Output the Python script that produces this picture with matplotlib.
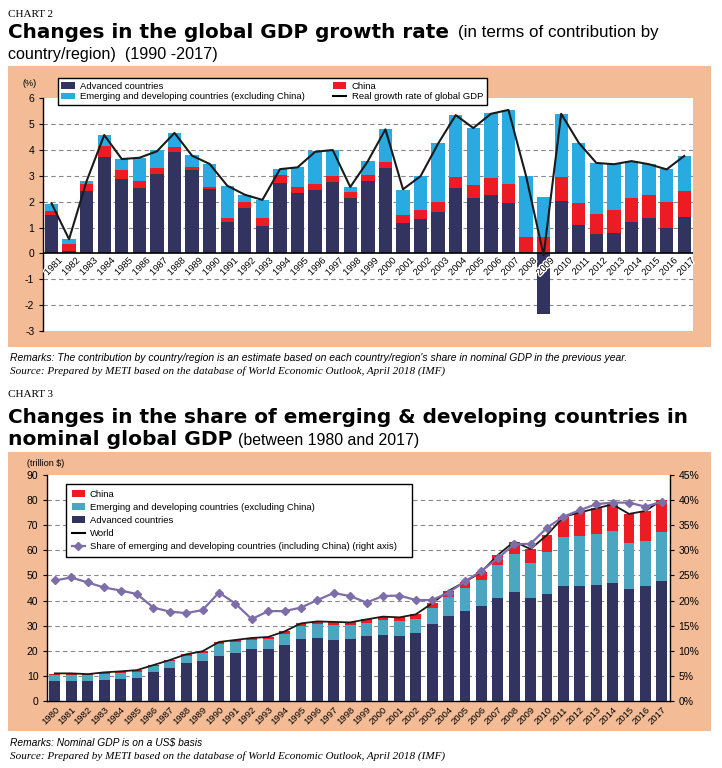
import numpy as np
import matplotlib
matplotlib.use('Agg')
import matplotlib.pyplot as plt
from matplotlib.patches import Rectangle, Patch
from matplotlib.lines import Line2D
import matplotlib.patheffects as pe

# ---------------- data: chart 2 (contribution to real GDP growth, %) ----------------
years2 = [str(y) for y in range(1981, 2018)]
adv2 = [1.48, 0.10, 2.41, 3.74, 2.88, 2.55, 3.07, 3.92, 3.23, 2.50, 1.21, 1.77, 1.07,
        2.74, 2.35, 2.45, 2.76, 2.15, 2.81, 3.29, 1.19, 1.34, 1.61, 2.54, 2.15, 2.27,
        1.96, 0.05, -2.36, 2.03, 1.11, 0.74, 0.80, 1.23, 1.38, 0.99, 1.42]
china2 = [0.17, 0.25, 0.27, 0.43, 0.36, 0.26, 0.23, 0.21, 0.12, 0.08, 0.17, 0.23, 0.30,
          0.29, 0.23, 0.23, 0.23, 0.22, 0.22, 0.26, 0.31, 0.34, 0.38, 0.43, 0.50, 0.63,
          0.72, 0.58, 0.63, 0.94, 0.85, 0.78, 0.88, 0.92, 0.89, 1.01, 0.99]
emerg2 = [0.26, 0.19, 0.12, 0.41, 0.41, 0.89, 0.69, 0.53, 0.46, 0.88, 1.23, 0.26, 0.69,
          0.23, 0.76, 1.27, 1.01, 0.20, 0.54, 1.26, 0.95, 1.31, 2.29, 2.38, 2.20, 2.52,
          2.87, 2.36, 1.56, 2.42, 2.32, 1.96, 1.77, 1.42, 1.18, 1.25, 1.36]
world2 = [1.94, 0.55, 2.80, 4.58, 3.65, 3.70, 3.95, 4.66, 3.78, 3.46, 2.62, 2.27, 2.07,
          3.26, 3.33, 3.93, 4.00, 2.57, 3.57, 4.80, 2.48, 2.99, 4.25, 5.35, 4.85, 5.40,
          5.55, 3.00, -0.07, 5.40, 4.28, 3.50, 3.45, 3.57, 3.45, 3.25, 3.77]

# ---------------- data: chart 3 (nominal GDP, trillion $) ----------------
years3 = [str(y) for y in range(1980, 2018)]
adv3 = [8.1, 8.1, 8.1, 8.5, 8.9, 9.3, 11.7, 13.3, 15.3, 16.1, 17.9, 19.2, 20.8, 20.8,
        22.4, 24.7, 25.1, 24.3, 24.7, 25.9, 26.3, 25.9, 27.2, 30.7, 33.9, 35.8, 38.0,
        41.0, 43.4, 41.0, 42.6, 45.8, 45.8, 46.2, 47.0, 44.6, 45.8, 47.8]
emerg3 = [2.25, 2.25, 2.1, 2.4, 2.4, 2.4, 2.2, 2.5, 2.6, 2.9, 4.8, 4.4, 3.5, 3.8, 4.3,
          5.2, 5.6, 5.8, 5.4, 5.2, 6.0, 6.0, 5.5, 6.2, 7.7, 9.1, 10.2, 13.2, 15.1, 14.1,
          16.7, 19.5, 19.9, 20.3, 20.7, 18.3, 17.8, 19.5]
china3 = [0.6, 0.6, 0.5, 0.5, 0.5, 0.6, 0.4, 0.5, 0.7, 0.8, 0.8, 0.7, 0.8, 0.9, 1.0,
          1.0, 1.0, 1.4, 1.2, 1.4, 1.3, 1.4, 1.8, 2.0, 2.3, 2.5, 3.2, 3.9, 5.0, 5.4, 6.8,
          8.0, 9.4, 10.2, 10.6, 11.6, 12.1, 12.7]
world3 = [11.0, 11.0, 10.7, 11.4, 11.8, 12.3, 14.3, 16.3, 18.6, 19.8, 23.5, 24.3, 25.1,
          25.5, 27.7, 30.9, 31.7, 31.5, 31.3, 32.5, 33.6, 33.3, 34.5, 38.9, 43.9, 47.4,
          51.4, 58.1, 63.5, 60.5, 66.1, 73.3, 75.1, 76.7, 78.3, 74.5, 75.7, 80.0]
share3 = [24.0, 24.6, 23.6, 22.6, 22.0, 21.3, 18.6, 17.8, 17.5, 18.1, 21.6, 19.4, 16.3,
          17.9, 17.9, 18.6, 20.1, 21.5, 20.9, 19.6, 20.9, 21.0, 20.1, 20.1, 21.6, 23.8,
          25.9, 28.4, 31.2, 31.3, 34.5, 36.7, 38.0, 39.2, 39.5, 39.5, 38.7, 39.7]

# ---------------- style ----------------
ORANGE = '#F3BC96'
NAVY = '#333360'
BLUE = '#29ABE2'
RED = '#ED1C24'
TEAL = '#4BA6C2'
PURPLE = '#7D6EAA'
GRID = '#888888'
TITLE_FONT = ['DejaVu Sans']

W, H = 722, 768
plt.rcParams['font.family'] = ['Liberation Sans', 'DejaVu Sans']
plt.rcParams['axes.unicode_minus'] = False
fig = plt.figure(figsize=(W / 100, H / 100), dpi=100)
renderer = fig.canvas.get_renderer()


def fx(x):
    return x / W


def fy(y):
    return 1 - y / H


def put(x, y, s, size, target_w=None, **kw):
    t = fig.text(fx(x), fy(y), s, fontsize=size, va='baseline', ha='left', **kw)
    if target_w:
        w = t.get_window_extent(renderer).width
        t.set_fontsize(size * target_w / w)
    return t


def after(t, s, size, x1, target_w=None, **kw):
    y = t.get_position()[1]
    t2 = fig.text(x1 / W, y, s, fontsize=size, va='baseline', ha='left', **kw)
    if target_w:
        w = t2.get_window_extent(renderer).width
        t2.set_fontsize(size * target_w / w)
    return t2


# panels
fig.add_artist(Rectangle((fx(8), fy(347)), 703 / W, 281 / H, transform=fig.transFigure,
                         facecolor=ORANGE, edgecolor='none', zorder=-5))
fig.add_artist(Rectangle((fx(8), fy(731)), 703 / W, 279 / H, transform=fig.transFigure,
                         facecolor=ORANGE, edgecolor='none', zorder=-5))

# ---------------- titles ----------------
put(8, 17, 'CHART 2', 8, family='Liberation Serif')
t = put(8, 37.5, 'Changes in the global GDP growth rate', 14, target_w=442,
        weight='bold', family=TITLE_FONT)
after(t, '(in terms of contribution by', 10, x1=458, target_w=202)
put(8, 59, 'country/region)  (1990 -2017)', 10, target_w=210)

put(10, 361, "Remarks: The contribution by country/region is an estimate based on each "
             "country/region's share in nominal GDP in the previous year.", 7,
    target_w=620, style='italic')
put(10, 374, 'Source: Prepared by METI based on the database of World Economic Outlook, '
             'April 2018 (IMF)', 7.5, target_w=432, style='italic', family='Liberation Serif')

put(8, 397, 'CHART 3', 8, family='Liberation Serif')
put(8, 423, 'Changes in the share of emerging & developing countries in', 14,
    target_w=680, weight='bold', family=TITLE_FONT)
t = put(8, 445, 'nominal global GDP', 14, target_w=224, weight='bold', family=TITLE_FONT)
after(t, '(between 1980 and 2017)', 10, x1=238, target_w=182)

put(10, 746, 'Remarks: Nominal GDP is on a US$ basis', 7, target_w=193, style='italic')
put(10, 759, 'Source: Prepared by METI based on the database of World Economic Outlook, '
             'April 2018 (IMF)', 7.5, target_w=432, style='italic', family='Liberation Serif')

# ---------------- chart 2 ----------------
ax2 = fig.add_axes([fx(42.7), fy(331), (693 - 42.7) / W, (331 - 98.3) / H])
ax2.set_facecolor('white')
x2 = np.arange(len(years2))
adv2a = np.array(adv2)
china2a = np.array(china2)
emerg2a = np.array(emerg2)
base = np.maximum(adv2a, 0)
bw2 = 0.76
ax2.bar(x2, adv2a, bw2, color=NAVY, zorder=3)
ax2.bar(x2, china2a, bw2, bottom=base, color=RED, zorder=3)
ax2.bar(x2, emerg2a, bw2, bottom=base + china2a, color=BLUE, zorder=3)
ax2.plot(x2, world2, color='#1a1a1a', lw=1.5, zorder=5)
ax2.set_xlim(-0.5, len(years2) - 0.5)
ax2.set_ylim(-3, 6)
ax2.set_yticks(range(-3, 7))
for v in range(-2, 6):
    if v != 0:
        ax2.axhline(v, color=GRID, lw=0.8, ls=(0, (4, 3)), zorder=1)
ax2.axhline(0, color='black', lw=1.2, zorder=4)
for s in ['top', 'right', 'bottom']:
    ax2.spines[s].set_visible(False)
ax2.spines['left'].set_color('black')
ax2.spines['left'].set_linewidth(1.0)
ax2.tick_params(axis='y', length=3, width=0.8, labelsize=7.5, pad=3, direction='out')
ax2.set_xticks([])
for i, lab in enumerate(years2):
    ax2.text(i + 0.35, -0.1, lab, rotation=45, ha='right', va='top', fontsize=6.8,
             rotation_mode='anchor', zorder=6,
             path_effects=[pe.withStroke(linewidth=2, foreground='white')])
fig.text(fx(30), fy(86), '(%)', fontsize=6.5, ha='center', va='baseline')

h2 = [Patch(facecolor=NAVY), Patch(facecolor=BLUE), Patch(facecolor=RED),
      Line2D([], [], color='black', lw=1.5)]
l2 = ['Advanced countries', 'Emerging and developing countries (excluding China)',
      'China', 'Real growth rate of global GDP']
leg2 = fig.legend(h2, l2, ncol=2, loc='upper left',
                  bbox_to_anchor=(fx(57.7), fy(105.7), (486.7 - 57.7) / W, (105.7 - 78) / H),
                  bbox_transform=fig.transFigure, mode='expand', fontsize=6.8,
                  frameon=True, fancybox=False, edgecolor='black', framealpha=1,
                  handlelength=1.4, handleheight=0.7, handletextpad=0.6,
                  labelspacing=0.18, borderpad=0.38, borderaxespad=0, columnspacing=1.0)
leg2.get_frame().set_linewidth(1.0)
leg2.set_zorder(10)

# ---------------- chart 3 ----------------
ax3 = fig.add_axes([fx(46.7), fy(701), (670 - 46.7) / W, (701 - 475) / H])
ax3.set_facecolor('white')
x3 = np.arange(len(years3))
adv3a = np.array(adv3)
emerg3a = np.array(emerg3)
china3a = np.array(china3)
bw3 = 0.66
ax3.bar(x3, adv3a, bw3, color=NAVY, zorder=3)
ax3.bar(x3, emerg3a, bw3, bottom=adv3a, color=TEAL, zorder=3)
ax3.bar(x3, china3a, bw3, bottom=adv3a + emerg3a, color=RED, zorder=3)
ax3.plot(x3, world3, color='#1a1a1a', lw=1.3, zorder=5)
ax3.set_xlim(-0.5, len(years3) - 0.5)
ax3.set_ylim(0, 90)
ax3.set_yticks(range(0, 91, 10))
for v in range(10, 90, 10):
    ax3.axhline(v, color=GRID, lw=0.8, ls=(0, (4, 3)), zorder=1)
ax3.spines['top'].set_visible(False)
ax3.spines['right'].set_visible(False)
for s in ['left', 'bottom']:
    ax3.spines[s].set_color('black')
    ax3.spines[s].set_linewidth(1.0)
ax3.tick_params(axis='y', length=3, width=0.8, labelsize=7.5, pad=3, direction='out')
ax3.set_xticks(x3)
ax3.set_xticklabels(years3, rotation=45, ha='right', rotation_mode='anchor', fontsize=6.8)
ax3.tick_params(axis='x', length=0, pad=3)

ax3b = ax3.twinx()
ax3b.set_ylim(0, 45)
ax3b.set_yticks(range(0, 46, 5))
ax3b.set_yticklabels([f'{v}%' for v in range(0, 46, 5)])
ax3b.tick_params(axis='y', length=3, width=0.8, labelsize=7.5, pad=3, direction='out')
for s in ['top', 'left', 'bottom']:
    ax3b.spines[s].set_visible(False)
ax3b.spines['right'].set_color('black')
ax3b.spines['right'].set_linewidth(1.0)
ax3b.plot(x3, share3, color=PURPLE, lw=1.6, marker='D', ms=4, mec=PURPLE, mfc=PURPLE, zorder=6)
fig.text(fx(46), fy(466), '(trillion $)', fontsize=6.5, ha='center', va='baseline')

h3 = [Patch(facecolor=RED), Patch(facecolor=TEAL), Patch(facecolor=NAVY),
      Line2D([], [], color='black', lw=1.5),
      Line2D([], [], color=PURPLE, lw=1.6, marker='D', ms=4)]
l3 = ['China', 'Emerging and developing countries (excluding China)', 'Advanced countries',
      'World', 'Share of emerging and developing countries (including China) (right axis)']
leg3 = ax3b.legend(h3, l3, loc='upper left',
                   bbox_to_anchor=(fx(66), fy(556), (412 - 66) / W, (556 - 484) / H),
                   bbox_transform=fig.transFigure, mode='expand', fontsize=6.8,
                   frameon=True, fancybox=False, edgecolor='black', framealpha=1,
                   handlelength=1.4, handleheight=0.7, handletextpad=0.5,
                   labelspacing=0.44, borderpad=0.6, borderaxespad=0)
leg3.get_frame().set_linewidth(1.0)
leg3.set_zorder(10)

fig.savefig('out.png', dpi=100)
